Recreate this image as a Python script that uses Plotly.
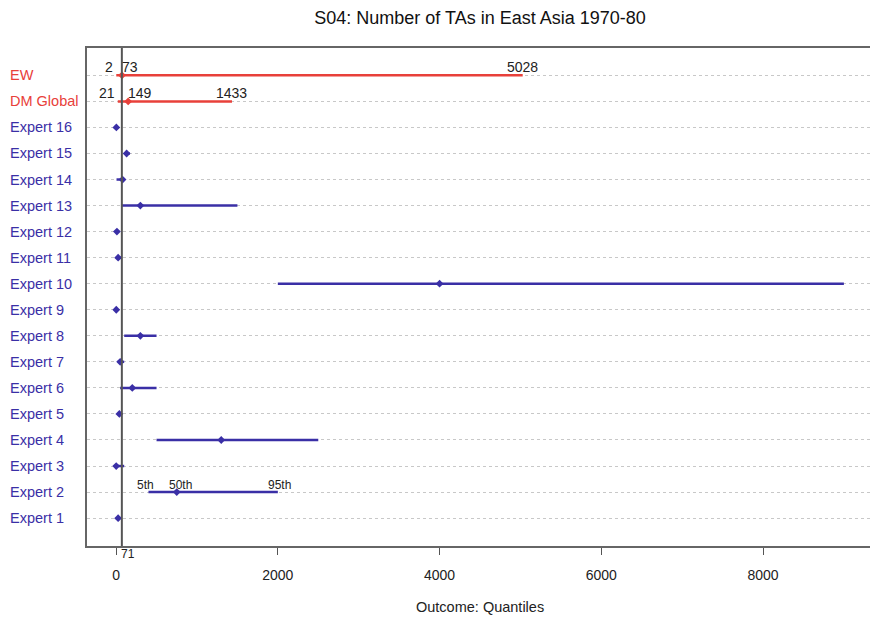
import plotly.graph_objects as go

title = "S04: Number of TAs in East Asia 1970-80"
x_title = "Outcome: Quantiles"
labels = ["EW", "DM Global", "Expert 16", "Expert 15", "Expert 14", "Expert 13",
          "Expert 12", "Expert 11", "Expert 10", "Expert 9", "Expert 8", "Expert 7",
          "Expert 6", "Expert 5", "Expert 4", "Expert 3", "Expert 2", "Expert 1"]
q05 = [2, 21, 1, 100, 5, 60, 5, 5, 2000, 0, 100, 20, 50, 30, 500, 0, 400, 10]
q50 = [73, 149, 3, 130, 80, 300, 10, 25, 4000, 2, 300, 50, 200, 40, 1300, 1, 750, 25]
q95 = [5028, 1433, 8, 170, 100, 1500, 20, 60, 9000, 10, 500, 100, 500, 50, 2500, 100, 2000, 50]
ref_value = 71
x_ticks = [0, 2000, 4000, 6000, 8000]

RED = "#e8403a"
BLUE = "#3a2fa6"
FONT = "Liberation Sans, Arial"
n = len(labels)
ypos = [n - i for i in range(n)]
colors = [RED, RED] + [BLUE] * (n - 2)

fig = go.Figure()
for i in range(n):
    fig.add_trace(go.Scatter(x=[q05[i], q95[i]], y=[ypos[i], ypos[i]], mode="lines",
                             line=dict(color=colors[i], width=2.5), showlegend=False,
                             hoverinfo="skip"))
    fig.add_trace(go.Scatter(x=[q50[i]], y=[ypos[i]], mode="markers",
                             marker=dict(color=colors[i], size=6, symbol="diamond"),
                             showlegend=False))

ann = []
# row labels (left aligned)
for i in range(n):
    ann.append(dict(x=-0.1003, xref="paper", y=ypos[i], yref="y", text=labels[i],
                    showarrow=False, xanchor="left", yanchor="middle",
                    font=dict(size=14.5, color=colors[i], family=FONT)))
# value labels for EW and DM Global
lab_font = dict(size=14, color="#222", family=FONT)
for i in range(2):
    ann.append(dict(x=q05[i], y=ypos[i], text=str(q05[i]), showarrow=False,
                    xanchor="right", yanchor="middle", yshift=8, xshift=-1, font=lab_font))
    ann.append(dict(x=q50[i], y=ypos[i], text=str(q50[i]), showarrow=False,
                    xanchor="left", yanchor="middle", yshift=8, xshift=-2, font=lab_font))
    ann.append(dict(x=q95[i], y=ypos[i], text=str(q95[i]), showarrow=False,
                    xanchor="center", yanchor="middle", yshift=8, font=lab_font))
# quantile labels above Expert 2
k = labels.index("Expert 2")
small = dict(size=12, color="#222", family=FONT)
for val, txt, xs in [(q05[k], "5th", -3), (q50[k], "50th", 4), (q95[k], "95th", 2)]:
    ann.append(dict(x=val, y=ypos[k], text=txt, showarrow=False, xanchor="center",
                    yanchor="middle", yshift=7, xshift=xs, font=small))
# reference label below axis
ann.append(dict(x=ref_value, y=-0.016, yref="paper", text=str(ref_value), showarrow=False,
                xanchor="left", yanchor="middle", xshift=-3,
                font=dict(size=12, color="#222", family=FONT)))
# x-axis title
ann.append(dict(x=0.5, xref="paper", y=-0.1225, yref="paper", text=x_title,
                showarrow=False, xanchor="center", yanchor="middle",
                font=dict(size=14.5, color="#222", family=FONT)))

fig.add_shape(type="line", x0=ref_value, x1=ref_value, y0=0, y1=1, xref="x", yref="paper",
              line=dict(color="#555", width=2))

fig.update_layout(
    width=870, height=611,
    margin=dict(l=79, r=3, t=40, b=73),
    paper_bgcolor="white", plot_bgcolor="white",
    title=dict(text=title, xref="paper", x=0.5, xanchor="center", y=0.984, yanchor="middle",
               font=dict(size=18, color="#111", family=FONT)),
    annotations=ann,
    font=dict(family=FONT, color="#222"),
)
fig.update_xaxes(range=[-360, 9360], tickvals=x_ticks, ticks="outside", ticklen=7,
                 tickcolor="#555", tickfont=dict(size=14, color="#222"),
                 ticklabelstandoff=8,
                 showgrid=False, zeroline=False, showline=True, mirror=True,
                 linecolor="#666", linewidth=1.5)
fig.update_yaxes(range=[1 - 1.07, n + 1.05], tickvals=ypos, showticklabels=False,
                 showgrid=True, gridcolor="#c8c8c8", griddash="dot", gridwidth=1,
                 zeroline=False, showline=True, mirror=True, linecolor="#666", linewidth=1.5)

fig.write_html("out.html")
